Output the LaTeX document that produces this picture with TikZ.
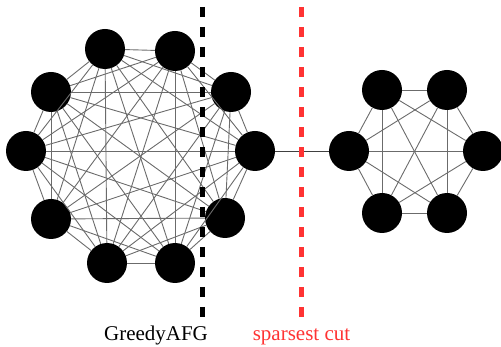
\documentclass[tikz,border=0pt]{standalone}
\usepackage{fontspec}
\setmainfont{Liberation Serif}

\tikzset{
  vertex/.style={circle,fill=black,inner sep=0pt,minimum size=40pt},
  edge/.style={draw=black!58,line width=0.9pt},
  cutline/.style={line width=5pt,dash pattern=on 10pt off 10pt},
}
\definecolor{cutred}{RGB}{255,51,51}

\begin{document}
\begin{tikzpicture}[x=1pt,y=-1pt]
\useasboundingbox (0,0) rectangle (501,347);
%% Big cluster: ten vertices
\foreach \i/\x/\y in {1/255/151,2/231/92,3/175/51,4/105/49,5/51/92,
                      6/26/151,7/51/219,8/107/263,9/175/263,10/225/218}
  \node[vertex] (a\i) at (\x,\y) {};
%% Small cluster: six vertices
\foreach \i/\x/\y in {1/349/151,2/382/90,3/447/90,4/483/151,5/447/213,6/382/213}
  \node[vertex] (b\i) at (\x,\y) {};

%% complete graphs
\foreach \i in {1,...,9}{
  \pgfmathtruncatemacro{\next}{\i+1}
  \foreach \j in {\next,...,10}
    \draw[edge] (a\i) -- (a\j);
}
\foreach \i in {1,...,5}{
  \pgfmathtruncatemacro{\next}{\i+1}
  \foreach \j in {\next,...,6}
    \draw[edge] (b\i) -- (b\j);
}
%% bridge between the clusters
\draw[draw=black!75,line width=0.9pt] (a1) -- (b1);

%% cuts
\coordinate (gtop) at (202,7);
\coordinate (gbot) at (202,317);
\coordinate (stop) at (301,7);
\coordinate (sbot) at (301,317);
\draw[cutline,black] (gtop) -- (gbot);
\draw[cutline,cutred] (stop) -- (sbot);
\node[anchor=base,font=\fontsize{21}{25}\selectfont] (glabel) at (156,341) {GreedyAFG};
\node[anchor=base,text=cutred,font=\fontsize{21}{25}\selectfont] (slabel) at (301.5,341) {sparsest cut};
\end{tikzpicture}
\end{document}
